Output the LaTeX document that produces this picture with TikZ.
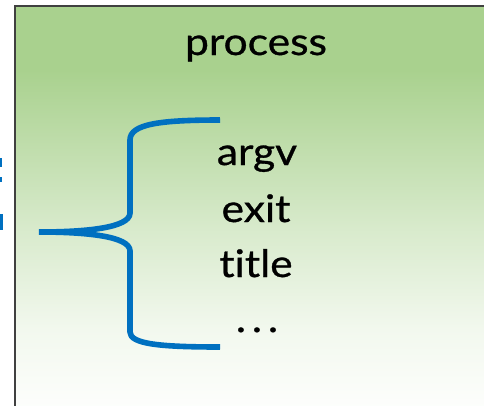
\documentclass[tikz,border=0pt]{standalone}
\usepackage{fontspec}
\setmainfont{Lato}[FakeStretch=1.12,FakeBold=0.8,Ligatures=NoCommon]
\definecolor{panelgreen}{RGB}{169,209,142}
\definecolor{braceblue}{RGB}{0,112,192}
\definecolor{framegray}{RGB}{64,64,64}
% green at the top, fading to white towards the bottom
% (the filled path covers the 25bp..75bp band of the shading)
\pgfdeclareverticalshading{panelfade}{100bp}{%
  color(0bp)=(white); color(25bp)=(white!97!panelgreen);
  color(34.5bp)=(white!85!panelgreen); color(47bp)=(white!55!panelgreen);
  color(67bp)=(panelgreen); color(100bp)=(panelgreen)}
\tikzset{
  label text/.style={inner sep=0pt, anchor=base, font=\fontsize{38}{44}\selectfont, text=black},
  brace line/.style={draw=braceblue, line width=5.6pt, line cap=butt, line join=round},
  frame line/.style={draw=framegray, line width=2.2pt}
}
\begin{document}
\begin{tikzpicture}[x=1pt,y=-1pt]
\useasboundingbox (0,0) rectangle (484,405);
\begin{scope}
  \clip (0,0) rectangle (484,405);
  % panel body and its frame
  \shade[shading=panelfade] (15,6) rectangle (495,405);
  \draw[frame line] (15,410) -- (15,6) -- (495,6);
  % ends of a blue label standing left of the panel
  \fill[braceblue] (0,158) rectangle (2,167);
  \fill[braceblue] (0,177) rectangle (2,182);
  \fill[braceblue] (0,214) rectangle (2.5,230);
\end{scope}

% texts
\node[label text] (title) at (256,55) {process};
\node[label text] (argv) at (257,165) {argv};
\node[label text] (exit) at (256,222) {exit};
\node[label text] (ttl) at (256,277) {title};
\node[label text] (more) at (257,332) {.\hspace{6pt}.\hspace{6pt}.};

% curly brace grouping the fields
\coordinate (btop) at (220,120);
\coordinate (btip) at (39,232);
\coordinate (bbot) at (220,347);
\draw[brace line] (btop) .. controls (160,120) and (130,124) .. (130,140)
  -- (130,213) .. controls (130,228) and (85,232) .. (btip);
\draw[brace line] (btip) .. controls (85,232) and (130,236) .. (130,251)
  -- (130,332) .. controls (130,344) and (160,347) .. (bbot);
\end{tikzpicture}
\end{document}
